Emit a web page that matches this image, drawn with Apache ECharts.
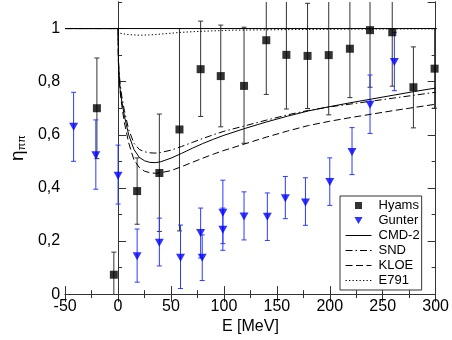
<!DOCTYPE html>
<html><head><meta charset="utf-8">
<script src="https://cdn.jsdelivr.net/npm/echarts@6/dist/echarts.min.js"></script>
<style>html,body{margin:0;padding:0;background:#fff}#c{width:452px;height:340px}</style>
</head><body><div id="c"></div>
<script>
// ---- data ----
const hyamsE   = [-20, -4, 18, 39, 58, 78, 97, 119, 140, 159, 179, 199, 219, 238, 259, 279, 299];
const hyamsEta = [0.70, 0.073, 0.388, 0.456, 0.62, 0.847, 0.821, 0.784, 0.956, 0.901, 0.897, 0.90, 0.924, 0.994, 0.986, 0.779, 0.849];
const hyamsLo  = [0.51, -0.012, 0.263, 0.236, 0.238, 0.669, 0.63, 0.568, 0.752, 0.697, 0.699, 0.675, 0.74, 0.779, 0.783, 0.626, 0.70];
const hyamsHi  = [0.889, 0.158, 0.513, 0.678, 1.0, 1.028, 1.013, 1.005, 1.16, 1.105, 1.095, 1.125, 1.108, 1.21, 1.19, 0.931, 1.0];

const gunterE   = [-42, -21, 0, 18, 39, 59, 78, 79.5, 99, 99, 119, 141, 158, 177, 200, 221, 238, 261];
const gunterEta = [0.63, 0.523, 0.446, 0.143, 0.193, 0.137, 0.23, 0.137, 0.306, 0.242, 0.292, 0.291, 0.361, 0.345, 0.422, 0.535, 0.713, 0.874];
const gunterLo  = [0.50, 0.395, 0.339, 0.045, 0.106, 0.021, 0.136, 0.051, 0.19, 0.165, 0.204, 0.202, 0.284, 0.259, 0.334, 0.45, 0.605, 0.766];
const gunterHi  = [0.76, 0.656, 0.561, 0.245, 0.286, 0.26, 0.324, 0.223, 0.429, 0.324, 0.385, 0.381, 0.443, 0.438, 0.513, 0.627, 0.825, 0.986];

const curveE = [-50, 0, 0.3, 1, 2, 3.5, 6, 10, 15, 20, 25, 30, 35, 40, 50, 60, 70, 80, 90, 100, 120, 140, 160, 180, 200, 220, 240, 260, 280, 300];
const cmd2   = [1, 1, 0.88, 0.82, 0.77, 0.727, 0.67, 0.60, 0.545, 0.515, 0.502, 0.496, 0.495, 0.498, 0.512, 0.530, 0.549, 0.567, 0.583, 0.598, 0.624, 0.648, 0.670, 0.690, 0.706, 0.721, 0.735, 0.749, 0.763, 0.776];
const snd    = [1, 1, 0.89, 0.835, 0.79, 0.745, 0.69, 0.62, 0.568, 0.545, 0.536, 0.532, 0.531, 0.533, 0.542, 0.556, 0.571, 0.586, 0.600, 0.613, 0.634, 0.655, 0.675, 0.692, 0.705, 0.716, 0.727, 0.738, 0.749, 0.760];
const kloe   = [1, 1, 0.87, 0.81, 0.76, 0.71, 0.645, 0.57, 0.505, 0.477, 0.463, 0.457, 0.455, 0.457, 0.465, 0.480, 0.496, 0.512, 0.527, 0.541, 0.566, 0.591, 0.614, 0.635, 0.651, 0.665, 0.678, 0.691, 0.703, 0.715];

const e791E = [-50, 0, 0.01, 5, 10, 20, 30, 40, 60, 80, 110, 160, 220, 300];
const e791  = [1, 1, 0.984, 0.98, 0.977, 0.975, 0.976, 0.979, 0.986, 0.99, 0.994, 0.996, 0.998, 0.999];

const refE = [-50, 300];
const refEta = [1, 1];

const xTicks = {min: -50, max: 300, interval: 50};
const yRange = {min: 0, max: 1.1};
// ---------------------------------------

const FONT = 'Liberation Sans';
const AX = '#333';
const zip = (a, b) => a.map((v, i) => [v, b[i]]);
const zip3 = (a, b, c) => a.map((v, i) => [v, b[i], c[i]]);

function errRender(color) {
  return function (params, api) {
    const x = api.value(0);
    let lo = api.value(1), hi = api.value(2);
    const capLo = lo >= yRange.min, capHi = hi <= yRange.max;
    lo = Math.max(lo, yRange.min); hi = Math.min(hi, yRange.max);
    const a = api.coord([x, lo]), b = api.coord([x, hi]);
    const w = 2.5;
    const st = {stroke: color, lineWidth: 1};
    const ch = [{type: 'line', shape: {x1: a[0], y1: a[1], x2: b[0], y2: b[1]}, style: st}];
    if (capLo) ch.push({type: 'line', shape: {x1: a[0] - w, y1: a[1], x2: a[0] + w, y2: a[1]}, style: st});
    if (capHi) ch.push({type: 'line', shape: {x1: b[0] - w, y1: b[1], x2: b[0] + w, y2: b[1]}, style: st});
    return {type: 'group', children: ch};
  };
}

const xBase = {
  type: 'value', min: xTicks.min, max: xTicks.max, interval: xTicks.interval,
  axisLine: {show: true, lineStyle: {color: AX, width: 1}},
  axisTick: {show: true, inside: true, length: 8, lineStyle: {color: AX}},
  minorTick: {show: true, splitNumber: 2, length: 4, lineStyle: {color: AX}},
  splitLine: {show: false}, minorSplitLine: {show: false}
};
const yBase = (interval, len, pos) => ({
  type: 'value', min: yRange.min, max: yRange.max, interval: interval, position: pos,
  axisLine: {show: true, lineStyle: {color: AX, width: 1}},
  axisTick: {show: true, inside: true, length: len, lineStyle: {color: AX}},
  splitLine: {show: false},
  axisLabel: {show: false}
});

const yMainLeft = Object.assign(yBase(0.2, 8, 'left'), {
  axisLabel: {
    show: true, fontFamily: FONT, fontSize: 16, color: '#000', margin: 5, showMaxLabel: false,
    formatter: v => (Math.abs(v) < 1e-9 ? '0' : Math.abs(v - 1) < 1e-9 ? '1' : v.toFixed(1).replace('.', ','))
  },
  name: '{a|η}{b|ππ}', nameLocation: 'middle', nameRotate: 90, nameGap: 30,
  nameTextStyle: {
    color: '#000',
    rich: {
      a: {fontFamily: FONT, fontSize: 19, color: '#000'},
      b: {fontFamily: FONT, fontSize: 11, color: '#000', verticalAlign: 'bottom', padding: [8, 0, 0, 0]}
    }
  }
});

const noSym = {color: 'rgba(0,0,0,0)', borderColor: 'rgba(0,0,0,0)', borderWidth: 0};

const option = {
  animation: false,
  backgroundColor: '#fff',
  grid: {left: 49, right: 15, top: 2, bottom: 38, containLabel: false},
  xAxis: [
    Object.assign({}, xBase, {
      position: 'bottom',
      axisLabel: {show: true, fontFamily: FONT, fontSize: 16, color: '#000', margin: 4},
      name: 'E [MeV]', nameLocation: 'middle', nameGap: 21,
      nameTextStyle: {fontFamily: FONT, fontSize: 16, color: '#000'}
    }),
    Object.assign({}, xBase, {position: 'top', axisLabel: {show: false}})
  ],
  yAxis: [
    yMainLeft,
    yBase(0.1, 4, 'left'),
    yBase(0.2, 8, 'right'),
    yBase(0.1, 4, 'right')
  ],
  legend: {
    orient: 'vertical', left: 340, top: 196,
    data: [
      {name: 'Hyams', icon: 'path://M0,0h1v1h-1z'},
      {name: 'Gunter', icon: 'path://M0,0L2,0L1,1.7z'},
      {name: 'CMD-2', itemStyle: noSym},
      {name: 'SND', itemStyle: noSym},
      {name: 'KLOE', itemStyle: noSym},
      {name: 'E791', itemStyle: noSym}
    ],
    itemWidth: 26, itemHeight: 7, itemGap: 2,
    padding: [3, 2, 3, 5],
    borderColor: AX, borderWidth: 1, borderRadius: 0,
    backgroundColor: '#fff',
    lineStyle: {width: 1},
    textStyle: {fontFamily: FONT, fontSize: 13, color: '#000', lineHeight: 12.5, padding: [0, 0, 0, 2]}
  },
  series: [
    {name: 'ref', type: 'line', data: zip(refE, refEta), symbol: 'none', silent: true,
      lineStyle: {color: '#000', width: 1}, z: 2},
    {name: 'CMD-2', type: 'line', data: zip(curveE, cmd2), symbol: 'none',
      lineStyle: {color: '#000', width: 1, type: 'solid'}, itemStyle: {color: '#000'}, z: 2},
    {name: 'SND', type: 'line', data: zip(curveE, snd), symbol: 'none',
      lineStyle: {color: '#000', width: 1, type: [7, 3, 1.5, 3]}, itemStyle: {color: '#000'}, z: 2},
    {name: 'KLOE', type: 'line', data: zip(curveE, kloe), symbol: 'none',
      lineStyle: {color: '#000', width: 1, type: [7, 3.5]}, itemStyle: {color: '#000'}, z: 2},
    {name: 'E791', type: 'line', data: zip(e791E, e791), symbol: 'none',
      lineStyle: {color: '#000', width: 1, type: [1.3, 2.2]}, itemStyle: {color: '#000'}, z: 2},
    {name: 'HyamsErr', type: 'custom', renderItem: errRender('#333'), data: zip3(hyamsE, hyamsLo, hyamsHi),
      encode: {x: 0, y: [1, 2]}, silent: true, z: 1},
    {name: 'GunterErr', type: 'custom', renderItem: errRender('#2b3bff'), data: zip3(gunterE, gunterLo, gunterHi),
      encode: {x: 0, y: [1, 2]}, silent: true, z: 1},
    {name: 'Hyams', type: 'scatter', data: zip(hyamsE, hyamsEta), symbol: 'rect', symbolSize: 8,
      itemStyle: {color: '#000'}, z: 5},
    {name: 'Gunter', type: 'scatter', data: zip(gunterE, gunterEta), symbol: 'triangle', symbolRotate: 180,
      symbolSize: [9, 8], itemStyle: {color: '#0000ff'}, z: 5}
  ]
};

const chart = echarts.init(document.getElementById('c'), null, {renderer: 'canvas'});
chart.setOption(option);
</script>
</body></html>
